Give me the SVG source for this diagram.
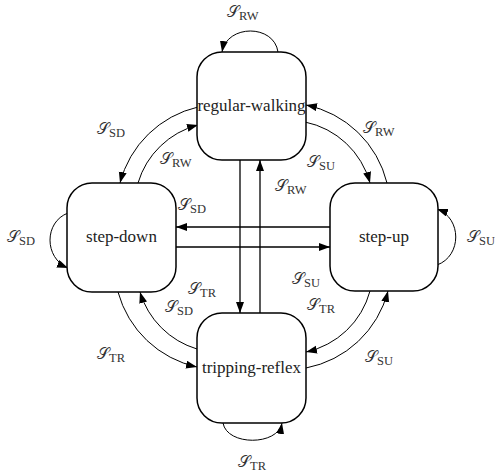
<svg xmlns="http://www.w3.org/2000/svg" width="495" height="474" viewBox="0 0 495 474">
<style>
.box{fill:#fff;stroke:#000;stroke-width:1.5}
.nt{font-family:'Liberation Serif','Times New Roman',serif;font-size:17px;text-anchor:middle;fill:#222}
.e{fill:none;stroke:#000;stroke-width:1}
.s{fill:none;stroke:#000;stroke-width:1.3}
.lab{font-family:'Liberation Serif','Times New Roman',serif;font-size:16px;fill:#333}
.S{font-size:16px}
.sub{font-size:12.5px}
</style>
<defs>
<marker id="a" markerUnits="userSpaceOnUse" markerWidth="12" markerHeight="9" refX="11" refY="4" orient="auto" viewBox="0 0 12 9">
<path d="M0,0 L11,4 L0,8 z" fill="#000"/>
</marker>
</defs>
<g id="connectors">
<path class="e" d="M278,52 C274,24 227,24 222,52" marker-end="url(#a)"/>
<path class="e" d="M68,213 C44,222 44,258 68,268" marker-end="url(#a)"/>
<path class="e" d="M437,265 C462,256 462,218 437,209" marker-end="url(#a)"/>
<path class="e" d="M223,423 C227,446 278,446 282,423" marker-end="url(#a)"/>
<path class="s" d="M240,160 L240,313" marker-end="url(#a)"/>
<path class="s" d="M260,313 L260,160" marker-end="url(#a)"/>
<path class="s" d="M330,227 L176,227" marker-end="url(#a)"/>
<path class="s" d="M176,247 L330,247" marker-end="url(#a)"/>
<path class="e" d="M198,107 A105,105 0 0 0 120,183" marker-end="url(#a)"/>
<path class="e" d="M138,183 A85,85 0 0 1 198,125" marker-end="url(#a)"/>
<path class="e" d="M305,122 A85,85 0 0 1 370,183" marker-end="url(#a)"/>
<path class="e" d="M387,183 A105,105 0 0 0 306,105" marker-end="url(#a)"/>
<path class="e" d="M118,292 A105,105 0 0 0 197,367" marker-end="url(#a)"/>
<path class="e" d="M197,349 A85,85 0 0 1 140,292" marker-end="url(#a)"/>
<path class="e" d="M370,291 A85,85 0 0 1 306,352" marker-end="url(#a)"/>
<path class="e" d="M306,368 A105,105 0 0 0 388,291" marker-end="url(#a)"/>
</g>
<g id="regular-walking">
<rect class="box" x="197" y="52" width="109" height="108" rx="25"/>
<text class="nt" x="251.5" y="111">regular-walking</text>
</g>
<g id="step-down">
<rect class="box" x="67" y="183" width="109" height="109" rx="25"/>
<text class="nt" x="121.5" y="242">step-down</text>
</g>
<g id="step-up">
<rect class="box" x="330" y="183" width="108" height="108" rx="25"/>
<text class="nt" x="384" y="242">step-up</text>
</g>
<g id="tripping-reflex">
<rect class="box" x="197" y="313" width="109" height="110" rx="25"/>
<text class="nt" x="251.5" y="373">tripping-reflex</text>
</g>
<g id="labels">
<text class="lab" x="227" y="17"><tspan class="S">𝒮</tspan><tspan class="sub" dy="3">RW</tspan></text>
<text class="lab" x="97" y="134"><tspan class="S">𝒮</tspan><tspan class="sub" dy="3">SD</tspan></text>
<text class="lab" x="160" y="164"><tspan class="S">𝒮</tspan><tspan class="sub" dy="3">RW</tspan></text>
<text class="lab" x="363" y="133"><tspan class="S">𝒮</tspan><tspan class="sub" dy="3">RW</tspan></text>
<text class="lab" x="307" y="167"><tspan class="S">𝒮</tspan><tspan class="sub" dy="3">SU</tspan></text>
<text class="lab" x="275" y="191"><tspan class="S">𝒮</tspan><tspan class="sub" dy="3">RW</tspan></text>
<text class="lab" x="178" y="210"><tspan class="S">𝒮</tspan><tspan class="sub" dy="3">SD</tspan></text>
<text class="lab" x="292" y="284"><tspan class="S">𝒮</tspan><tspan class="sub" dy="3">SU</tspan></text>
<text class="lab" x="188" y="294"><tspan class="S">𝒮</tspan><tspan class="sub" dy="3">TR</tspan></text>
<text class="lab" x="165" y="312"><tspan class="S">𝒮</tspan><tspan class="sub" dy="3">SD</tspan></text>
<text class="lab" x="307" y="310"><tspan class="S">𝒮</tspan><tspan class="sub" dy="3">TR</tspan></text>
<text class="lab" x="467" y="242"><tspan class="S">𝒮</tspan><tspan class="sub" dy="3">SU</tspan></text>
<text class="lab" x="97" y="359"><tspan class="S">𝒮</tspan><tspan class="sub" dy="3">TR</tspan></text>
<text class="lab" x="365" y="362"><tspan class="S">𝒮</tspan><tspan class="sub" dy="3">SU</tspan></text>
<text class="lab" x="238" y="467"><tspan class="S">𝒮</tspan><tspan class="sub" dy="3">TR</tspan></text>
<text class="lab" x="7" y="242"><tspan class="S">𝒮</tspan><tspan class="sub" dy="3">SD</tspan></text>
</g>
</svg>
